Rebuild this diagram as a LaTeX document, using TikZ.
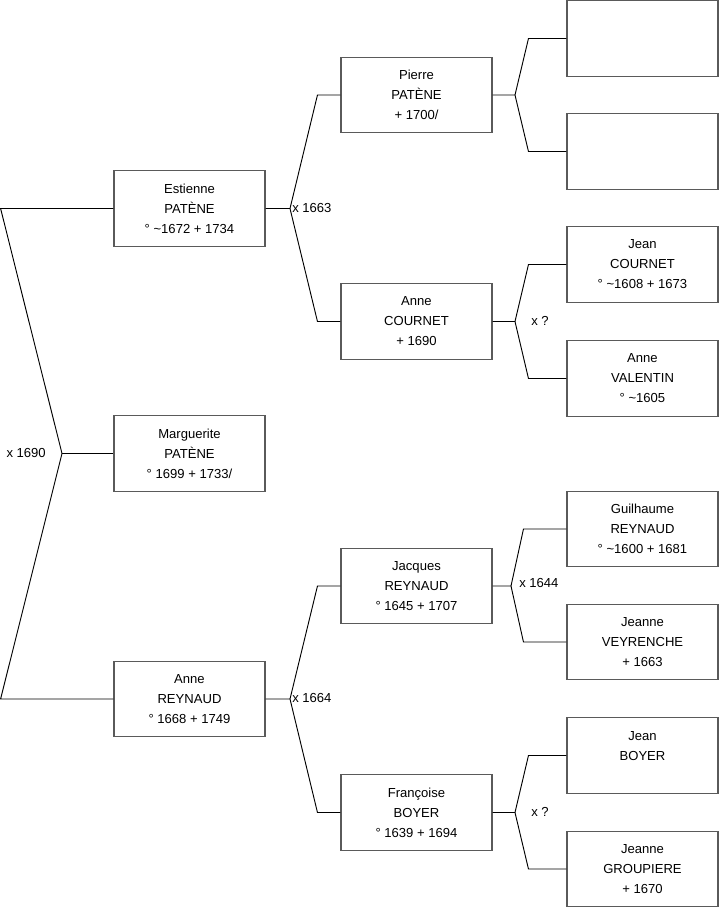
\documentclass[tikz,border=0pt]{standalone}
\usepackage{fontspec}
\setmainfont{Liberation Sans}
\usetikzlibrary{calc}
\definecolor{boxline}{RGB}{90,90,90}

\begin{document}
\begin{tikzpicture}[
    x=0.75pt, y=-0.75pt,
    person/.style={draw=boxline, fill=white, line width=0.8pt,
                   minimum width=113.25pt, minimum height=56.5pt,
                   inner sep=0pt, align=center,
                   font=\fontsize{9.8}{15}\selectfont},
    link/.style={draw=black, line width=0.7pt},
    union/.style={anchor=west, inner sep=0pt, font=\fontsize{9.8}{11}\selectfont}
]
\useasboundingbox (0,0) rectangle (719,908);

% generation 1
\node[person] (estienne)   at (189.5,208.5) {Estienne\\PATÈNE\\° \textasciitilde1672 + 1734};
\node[person] (marguerite) at (189.5,453.5) {Marguerite\\PATÈNE\\° 1699 + 1733/};
\node[person] (anneR)      at (189.5,699)   {Anne\\REYNAUD\\° 1668 + 1749};

% generation 2
\node[person] (pierre)    at (416.5,95)  {Pierre\\PATÈNE\\+ 1700/};
\node[person] (anneC)     at (416.5,321.5) {Anne\\COURNET\\+ 1690};
\node[person] (jacques)   at (416.5,586) {Jacques\\REYNAUD\\° 1645 + 1707};
\node[person] (francoise) at (416.5,812.5) {Françoise\\BOYER\\° 1639 + 1694};

% generation 3
\node[person] (pPere)  at (642.5,38.5)  {};
\node[person] (pMere)  at (642.5,151.5) {};
\node[person] (jeanC)  at (642.5,264.5) {Jean\\COURNET\\° \textasciitilde1608 + 1673};
\node[person] (anneV)  at (642.5,378.5) {Anne\\VALENTIN\\° \textasciitilde1605};
\node[person] (guil)   at (642.5,529) {Guilhaume\\REYNAUD\\° \textasciitilde1600 + 1681};
\node[person] (jeanneV) at (642.5,642) {Jeanne\\VEYRENCHE\\+ 1663};
\node[person] (jeanB)  at (642.5,755.5) {Jean\\BOYER\\\phantom{x}};
\node[person] (jeanneG) at (642.5,869) {Jeanne\\GROUPIERE\\+ 1670};

% fork of the first couple
\coordinate (v0) at (62,453.5);
\draw[link] (estienne.west) -- (estienne.west -| 0.6,0) -- (v0)
            -- (anneR.west -| 0.6,0) -- (anneR.west);
\draw[link] (v0) -- (marguerite.west);
\node[union, anchor=east] (u0) at ($(v0)+(-16,-1)$) {x 1690};

% forks of generation 2
\coordinate (v1) at (290,208.5);
\draw[link] (estienne.east) -- (v1) -- ($(pierre.west)+(-23,0)$) -- (pierre.west);
\draw[link] (v1) -- ($(anneC.west)+(-23,0)$) -- (anneC.west);
\node[union] (u1) at ($(v1)+(2,-1)$) {x 1663};

\coordinate (v2) at (290,699);
\draw[link] (anneR.east) -- (v2) -- ($(jacques.west)+(-23,0)$) -- (jacques.west);
\draw[link] (v2) -- ($(francoise.west)+(-23,0)$) -- (francoise.west);
\node[union] (u2) at ($(v2)+(2,-1)$) {x 1664};

% forks of generation 3
\coordinate (v3) at (515,95);
\draw[link] (pierre.east) -- (v3) -- ($(pPere.west)+(-38,0)$) -- (pPere.west);
\draw[link] (v3) -- ($(pMere.west)+(-38,0)$) -- (pMere.west);

\coordinate (v4) at (515,321.5);
\draw[link] (anneC.east) -- (v4) -- ($(jeanC.west)+(-38,0)$) -- (jeanC.west);
\draw[link] (v4) -- ($(anneV.west)+(-38,0)$) -- (anneV.west);
\node[union] (u4) at ($(v4)+(16,-1)$) {x ?};

\coordinate (v5) at (511,586);
\draw[link] (jacques.east) -- (v5) -- ($(guil.west)+(-43,0)$) -- (guil.west);
\draw[link] (v5) -- ($(jeanneV.west)+(-43,0)$) -- (jeanneV.west);
\node[union] (u5) at ($(v5)+(8,-3)$) {x 1644};

\coordinate (v6) at (515,812.5);
\draw[link] (francoise.east) -- (v6) -- ($(jeanB.west)+(-38,0)$) -- (jeanB.west);
\draw[link] (v6) -- ($(jeanneG.west)+(-38,0)$) -- (jeanneG.west);
\node[union] (u6) at ($(v6)+(16,-1)$) {x ?};
\end{tikzpicture}
\end{document}
